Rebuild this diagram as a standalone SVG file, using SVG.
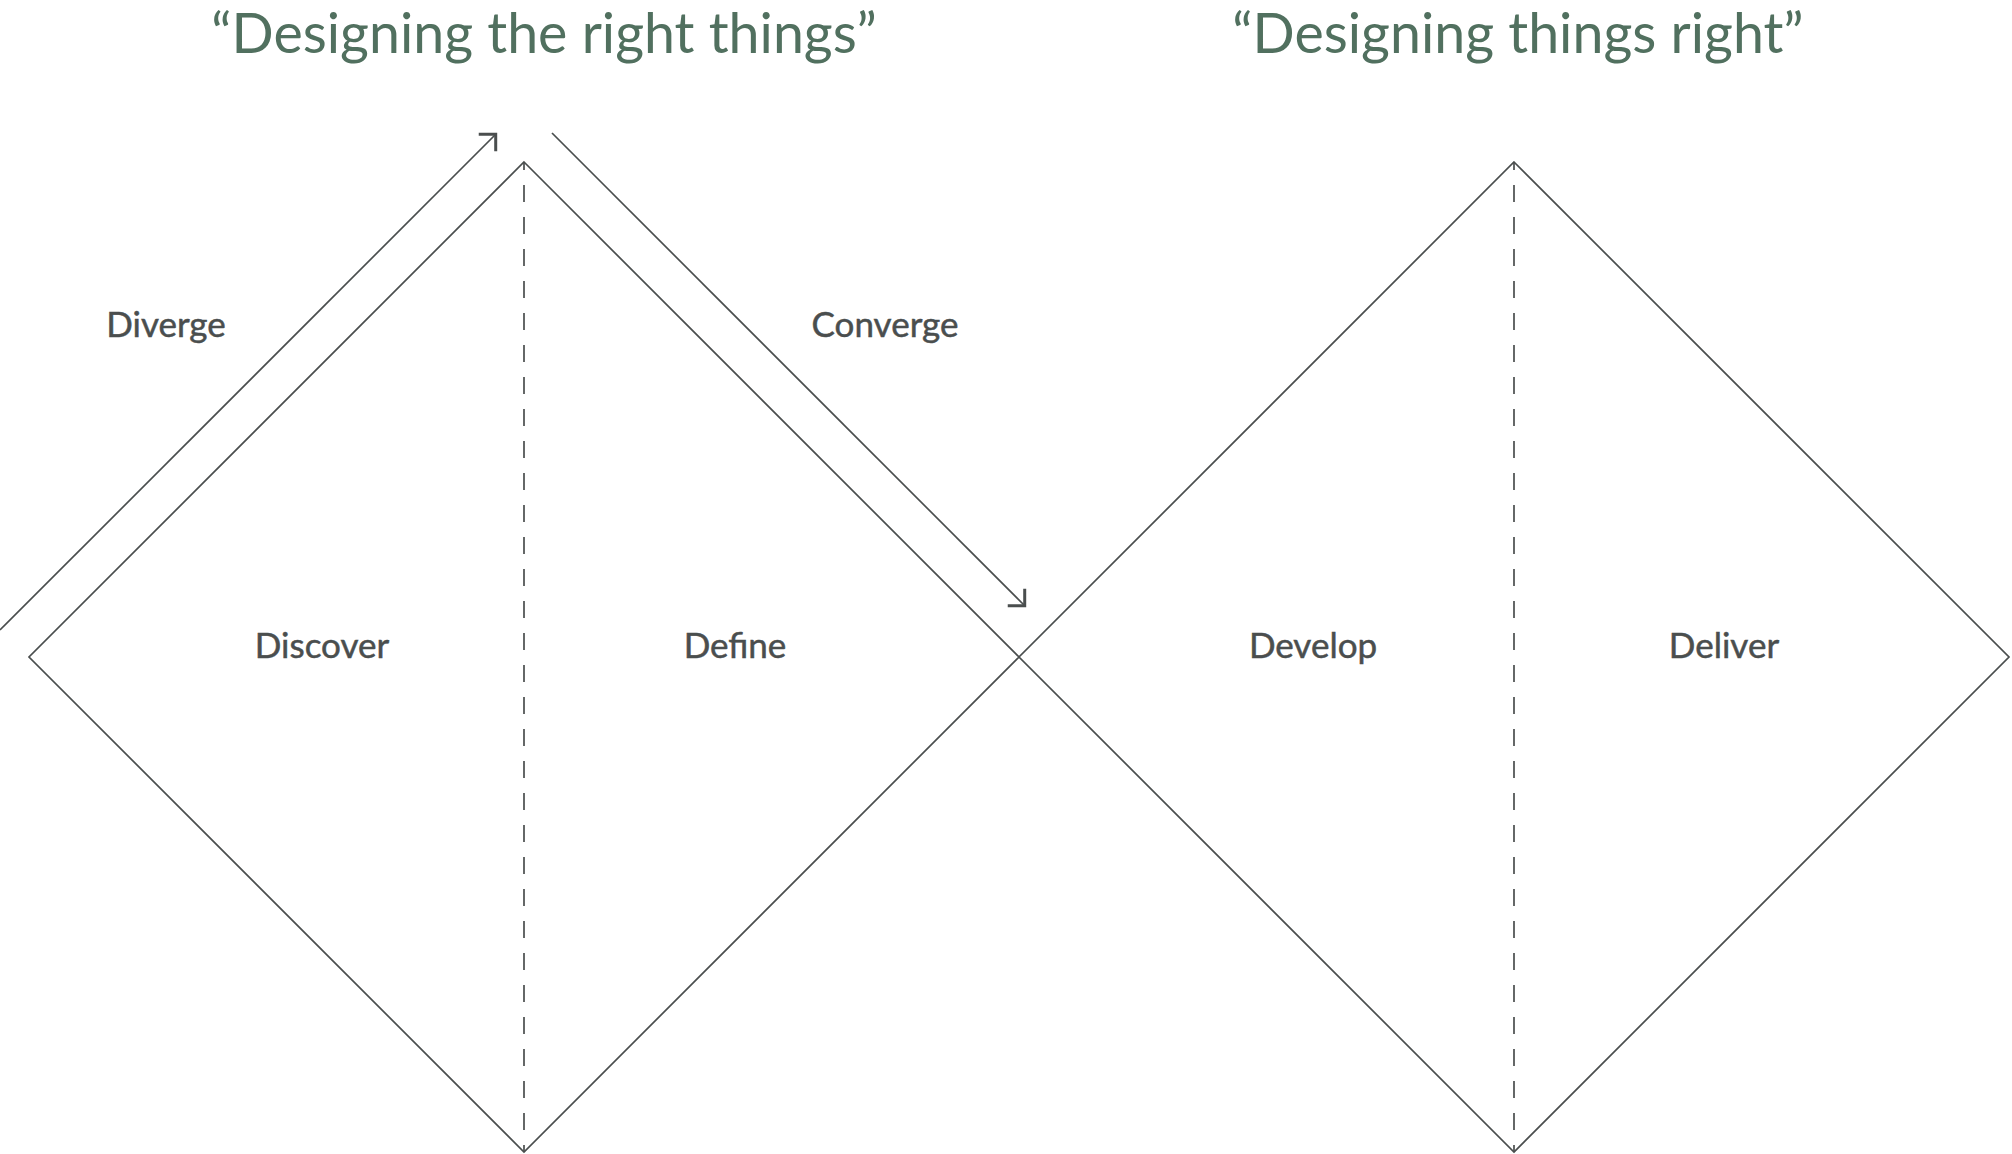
<svg xmlns="http://www.w3.org/2000/svg" width="2012" height="1154" viewBox="0 0 2012 1154">
  <style>
    .shape { fill: none; stroke: #4a4e4e; stroke-width: 1.7; }
    .split { fill: none; stroke: #4a4e4e; stroke-width: 1.7; stroke-dasharray: 17 15; stroke-dashoffset: 9; }
    .conn { fill: none; stroke: #4a4e4e; stroke-width: 1.7; }
    .title { font-family: Lato, "Open Sans", "Liberation Sans", sans-serif; font-size: 55.5px; fill: #51705f; text-anchor: middle; }
    .label { font-family: Lato, "Open Sans", "Liberation Sans", sans-serif; font-size: 35px; fill: #4a4e4e; stroke: #4a4e4e; stroke-width: 0.5; text-anchor: middle; }
  </style>
  <defs>
    <marker id="chev" markerUnits="userSpaceOnUse" markerWidth="30" markerHeight="30" viewBox="-15 -15 30 30" refX="-1" refY="0" orient="auto" overflow="visible">
      <path d="M-12,-12 L0,0 L-12,12" fill="none" stroke="#4a4e4e" stroke-width="3"/>
    </marker>
  </defs>
  <rect width="2012" height="1154" fill="#ffffff"/>

  <g id="title-left"><text class="title" x="544" y="53">“Designing the right things”</text></g>
  <g id="title-right"><text class="title" x="1518" y="53">“Designing things right”</text></g>

  <g id="diamond-left">
    <polygon class="shape" points="524,162 1019,657 524,1152 29,657"/>
    <line class="split" x1="524" y1="162" x2="524" y2="1152"/>
  </g>
  <g id="diamond-right">
    <polygon class="shape" points="1514,162 2009,657 1514,1152 1019,657"/>
    <line class="split" x1="1514" y1="162" x2="1514" y2="1152"/>
  </g>

  <g id="connectors">
    <line id="diverge-arrow" class="conn" x1="0" y1="630" x2="495" y2="135" marker-end="url(#chev)"/>
    <line id="converge-arrow" class="conn" x1="552" y1="133" x2="1024" y2="605" marker-end="url(#chev)"/>
  </g>

  <g id="label-diverge"><text class="label" x="166" y="337">Diverge</text></g>
  <g id="label-converge"><text class="label" x="885" y="337">Converge</text></g>
  <g id="label-discover"><text class="label" x="322" y="658">Discover</text></g>
  <g id="label-define"><text class="label" x="735" y="658">Define</text></g>
  <g id="label-develop"><text class="label" x="1313" y="658">Develop</text></g>
  <g id="label-deliver"><text class="label" x="1724" y="658">Deliver</text></g>
</svg>
